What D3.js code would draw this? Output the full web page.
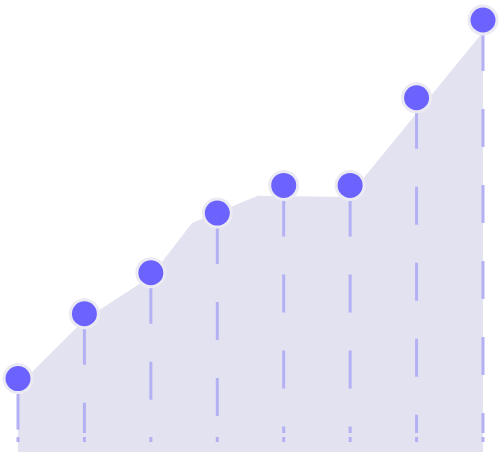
<!DOCTYPE html>
<html>
<head>
<meta charset="utf-8">
<script src="https://cdn.jsdelivr.net/npm/d3@7"></script>
<style>
	body { margin: 0; background: #fff; }
	svg { display: block; }
</style>
</head>
<body>
<svg class="chart" width="500" height="455"></svg>
<script>
/** DATA **/
// point positions (index) and values
let steps = [0, 1, 2, 3, 4, 5, 6, 7];
let values = [17, 32, 41.5, 55.3, 61.7, 61.7, 82, 100];

// background area outline (fractional index, value)
let areaSteps = [0, 1, 2, 2.62, 3.61, 4.97, 7];
let areaValues = [15.3, 30.6, 40.6, 53, 59.3, 59, 97.2];

/** CONSTANTS **/
let margin = { top: 20, right: 17, bottom: 3, left: 18 };

let constant = {
	width: 500 - margin.left - margin.right,
	height: 455 - margin.top - margin.bottom,
	x: d3.scaleLinear().domain([0, 7]).range([0, 500 - margin.left - margin.right]),
	y: d3.scaleLinear().domain([0, 100]).range([455 - margin.top - margin.bottom, 0])
};

let colors = {
	area: '#e3e2f0',
	stem: '#b3b0f4',
	halo: '#ebeaf3',
	dot: '#6c63ff'
};

function createChart() {
	let svg = d3.select('.chart');
	let g = svg.append('g').attr('transform', 'translate(' + margin.left + ',' + margin.top + ')');

	createArea(g);
	createStems(g);
	createDots(g);
}

// shaded area behind the points
function createArea(g) {
	let pts = areaSteps.map(function(d, i) { return [d, areaValues[i]]; });
	let area = d3.area()
		.x(function(d) { return constant.x(d[0]); })
		.y0(constant.y(0))
		.y1(function(d) { return constant.y(d[1]); });

	g.append('path')
		.datum(pts)
		.attr('d', area)
		.style('fill', colors.area);
}

// dashed drop lines + little foot tick
function createStems(g) {
	let bottom = constant.y(0);

	g.selectAll('.stem')
		.data(values)
		.enter()
		.append('line')
		.attr('class', 'stem')
		.attr('x1', function(d, i) { return constant.x(steps[i]); })
		.attr('x2', function(d, i) { return constant.x(steps[i]); })
		.attr('y1', function(d) { return constant.y(d) + 13; })
		.attr('y2', bottom - 19)
		.style('stroke', colors.stem)
		.style('stroke-width', 3)
		.style('stroke-dasharray', '38,38');

	g.selectAll('.foot')
		.data(values)
		.enter()
		.append('line')
		.attr('class', 'foot')
		.attr('x1', function(d, i) { return constant.x(steps[i]); })
		.attr('x2', function(d, i) { return constant.x(steps[i]); })
		.attr('y1', bottom - 15)
		.attr('y2', bottom - 10)
		.style('stroke', colors.stem)
		.style('stroke-width', 3);
}

function createDots(g) {
	g.selectAll('.dot')
		.data(values)
		.enter()
		.append('circle')
		.attr('class', 'dot')
		.attr('cx', function(d, i) { return constant.x(steps[i]); })
		.attr('cy', function(d) { return constant.y(d); })
		.attr('r', 14)
		.style('fill', colors.dot)
		.style('stroke', colors.halo)
		.style('stroke-width', 3);
}

createChart();
</script>
</body>
</html>
